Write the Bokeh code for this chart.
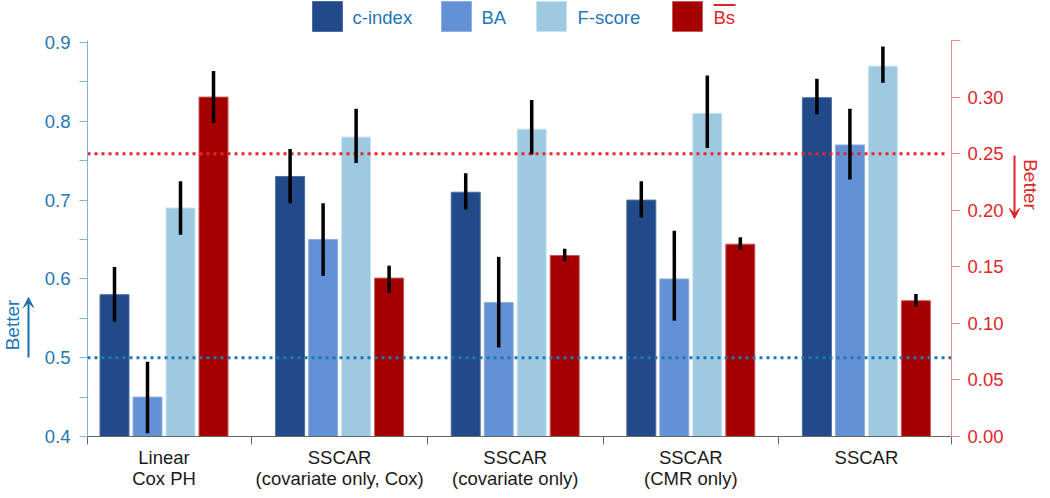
from bokeh.plotting import figure
from bokeh.models import (Range1d, LinearAxis, FixedTicker, Arrow, VeeHead, ColumnDataSource)
from bokeh.core.properties import value
from bokeh.embed import file_html
from bokeh.resources import INLINE

# ---------------- data ----------------
categories = ["Linear\nCox PH", "SSCAR\n(covariate only, Cox)", "SSCAR\n(covariate only)",
              "SSCAR\n(CMR only)", "SSCAR"]
series_names = ["c-index", "BA", "F-score", "Bs"]

cindex = [0.58, 0.73, 0.71, 0.70, 0.83]
cindex_lo = [0.546, 0.696, 0.688, 0.678, 0.809]
cindex_hi = [0.615, 0.765, 0.734, 0.724, 0.854]

ba = [0.45, 0.65, 0.57, 0.60, 0.77]
ba_lo = [0.404, 0.604, 0.513, 0.547, 0.726]
ba_hi = [0.495, 0.696, 0.628, 0.661, 0.816]

fscore = [0.69, 0.78, 0.79, 0.81, 0.87]
fscore_lo = [0.656, 0.747, 0.758, 0.766, 0.849]
fscore_hi = [0.724, 0.816, 0.827, 0.858, 0.895]

bs = [0.30, 0.14, 0.16, 0.17, 0.12]
bs_lo = [0.277, 0.127, 0.155, 0.165, 0.115]
bs_hi = [0.323, 0.151, 0.166, 0.176, 0.126]

left_ticks = [0.4, 0.5, 0.6, 0.7, 0.8, 0.9]
left_minor = [0.45, 0.55, 0.65, 0.75, 0.85]
right_ticks = [0.0, 0.05, 0.1, 0.15, 0.2, 0.25, 0.3]
right_labels = ["0.00", "0.05", "0.10", "0.15", "0.20", "0.25", "0.30"]
right_minor = [0.35]
ref_left = 0.5     # c-index reference level
ref_right = 0.25   # Bs reference level

# ---------------- styling / layout ----------------
FONT = "Liberation Sans"
FS = "18.5px"
C_CINDEX = "#224a8a"
C_BA = "#6291d5"
C_F = "#9ecae1"
C_BS = "#a50000"
E_CINDEX = "#4c6ea6"
E_BA = "#8fb0e2"
E_F = "#c8e2ef"
E_BS = "#c95a5a"
BLUE_TXT = "#2377b6"
RED_TXT = "#e0252b"

W, H = 1042, 490
AX_L, AX_R, AX_T, AX_B = 87, 951, 40, 436      # pixel box of the axes
PX_PER_X = 175.6
X_L = -0.4357                                    # x value at the left axis
X_R = X_L + (AX_R - AX_L) / PX_PER_X
PX_PER_Y = 788.0                                 # left scale
Y_B, Y_T = 0.4, 0.4 + (AX_B - AX_T) / PX_PER_Y
PX_PER_R = (AX_B - AX_T) / 0.35                  # right scale
R_B, R_T = 0.0, 0.35


def px_x(px):
    return X_L + (px - AX_L) / PX_PER_X


def px_y(py):
    return Y_B + (AX_B - py) / PX_PER_Y


def px_r(py):
    return R_B + (AX_B - py) / PX_PER_R


p = figure(width=W, height=H, output_backend="svg", toolbar_location=None,
           x_range=Range1d(px_x(0), px_x(W)), y_range=Range1d(px_y(H), px_y(0)),
           min_border=0)
p.extra_y_ranges = {"right": Range1d(px_r(H), px_r(0))}
p.outline_line_color = None
p.xgrid.visible = False
p.ygrid.visible = False
p.background_fill_color = "white"
p.border_fill_color = "white"

# ---- axes (fixed in place) ----
ya = p.yaxis[0]
ya.fixed_location = X_L
ya.bounds = (Y_B, Y_T)
ya.ticker = FixedTicker(ticks=left_ticks, minor_ticks=left_minor)
ya.axis_line_color = "#7fb0de"
ya.major_tick_line_color = "#7fb0de"
ya.minor_tick_line_color = "#7fb0de"
ya.major_tick_out = 8
ya.major_tick_in = 0
ya.minor_tick_out = 8
ya.minor_tick_in = 0
ya.major_label_standoff = 9
ya.major_label_text_color = BLUE_TXT
ya.major_label_text_font = FONT
ya.major_label_text_font_size = FS

ra = LinearAxis(y_range_name="right", fixed_location=X_R, bounds=(R_B, R_T))
ra.ticker = FixedTicker(ticks=right_ticks, minor_ticks=right_minor)
ra.major_label_overrides = {t: l for t, l in zip(right_ticks, right_labels)}
ra.axis_line_color = "#f08a8a"
ra.major_tick_line_color = "#f08a8a"
ra.minor_tick_line_color = "#f08a8a"
ra.major_tick_out = 9
ra.major_tick_in = 0
ra.minor_tick_out = 9
ra.minor_tick_in = 0
ra.major_label_standoff = 7
ra.major_label_text_color = RED_TXT
ra.major_label_text_font = FONT
ra.major_label_text_font_size = FS
p.add_layout(ra, "right")

xa = p.xaxis[0]
xa.fixed_location = Y_B
xa.bounds = (X_L, X_R)
xticks = [X_L, 0.5, 1.5, 2.5, 3.5, X_R]
xa.ticker = FixedTicker(ticks=xticks, minor_ticks=[])
xa.major_label_overrides = {t: "" for t in xticks}
xa.major_label_text_font_size = "0px"
xa.axis_line_color = "#666666"
xa.major_tick_line_color = "#666666"
xa.major_tick_out = 8
xa.major_tick_in = 0

# ---- bars ----
bar_w = 30 / PX_PER_X
pitch = 33 / PX_PER_X
offsets = [-1.5 * pitch, -0.5 * pitch, 0.5 * pitch, 1.5 * pitch]
series = [
    (cindex, cindex_lo, cindex_hi, C_CINDEX, E_CINDEX, "default"),
    (ba, ba_lo, ba_hi, C_BA, E_BA, "default"),
    (fscore, fscore_lo, fscore_hi, C_F, E_F, "default"),
    (bs, bs_lo, bs_hi, C_BS, E_BS, "right"),
]
err_data = []
for (vals, lo, hi, col, edge, rng), off in zip(series, offsets):
    xs = [i + off for i in range(len(categories))]
    src = ColumnDataSource(dict(x=xs, top=vals, lo=lo, hi=hi))
    base = Y_B if rng == "default" else R_B
    p.vbar(x="x", top="top", bottom=base, width=bar_w - 1 / PX_PER_X, source=src,
           fill_color=col, line_color=edge, line_width=1, y_range_name=rng)
    err_data.append((src, rng))

# reference dotted lines (above bars, below error bars)
p.segment(x0=[X_L], x1=[X_R], y0=[ref_left], y1=[ref_left],
          line_color="#1f77b4", line_width=3, line_dash="3 4")
p.segment(x0=[X_L], x1=[X_R - 5 / PX_PER_X], y0=[ref_right], y1=[ref_right],
          line_color="#e8262c", line_width=3, line_dash="3 4", y_range_name="right")

for src, rng in err_data:
    p.segment(x0="x", x1="x", y0="lo", y1="hi", source=src, line_color="black",
              line_width=3.5, y_range_name=rng)

# ---- legend (top) ----
sw_px = [327, 456, 551, 687]
lab_px = [352, 481, 577, 713]
sw_cols = [C_CINDEX, C_BA, C_F, C_BS]
sw_edges = [E_CINDEX, E_BA, E_F, E_BS]
lab_cols = [BLUE_TXT, BLUE_TXT, BLUE_TXT, RED_TXT]
p.scatter(x=[px_x(v) for v in sw_px], y=[px_y(16)] * 4, marker="square", size=30,
          fill_color=sw_cols, line_color=sw_edges, line_width=1)
p.text(x=[px_x(v) for v in lab_px], y=[px_y(17)] * 4, text=series_names,
       text_color=lab_cols, text_font=value(FONT), text_font_size=FS,
       text_align="left", text_baseline="middle")
# overline of the Bs symbol
p.segment(x0=[px_x(713)], x1=[px_x(735)], y0=[px_y(4.5)], y1=[px_y(4.5)],
          line_color=RED_TXT, line_width=2)

# ---- category labels ----
cx, cy, ct = [], [], []
for i, cat in enumerate(categories):
    for j, line in enumerate(cat.split("\n")):
        cx.append(i)
        cy.append(px_y(457 + 21 * j))
        ct.append(line)
p.text(x=cx, y=cy, text=ct, text_align="center", text_baseline="middle",
       text_font=value(FONT), text_font_size=FS, text_color="#1a1a1a")

# ---- "Better" annotations ----
p.text(x=[px_x(12)], y=[px_y(324.5)], text=["Better"], angle=1.5708,
       text_align="center", text_baseline="middle", text_font=value(FONT),
       text_font_size="19px", text_color=BLUE_TXT)
p.add_layout(Arrow(end=VeeHead(size=10, fill_color="#1f6fb0", line_color="#1f6fb0"),
                   x_start=px_x(28), x_end=px_x(28), y_start=px_y(357), y_end=px_y(297),
                   line_color="#1f6fb0", line_width=2))

p.text(x=[px_x(1030)], y=[px_r(184)], y_range_name="right", text=["Better"],
       angle=-1.5708, text_align="center", text_baseline="middle",
       text_font=value(FONT), text_font_size="19px", text_color=RED_TXT)
p.add_layout(Arrow(end=VeeHead(size=10, fill_color=RED_TXT, line_color=RED_TXT),
                   x_start=px_x(1014), x_end=px_x(1014), y_start=px_r(155), y_end=px_r(218),
                   y_range_name="right", line_color=RED_TXT, line_width=2))

open("out.html", "w").write(file_html(p, INLINE))
